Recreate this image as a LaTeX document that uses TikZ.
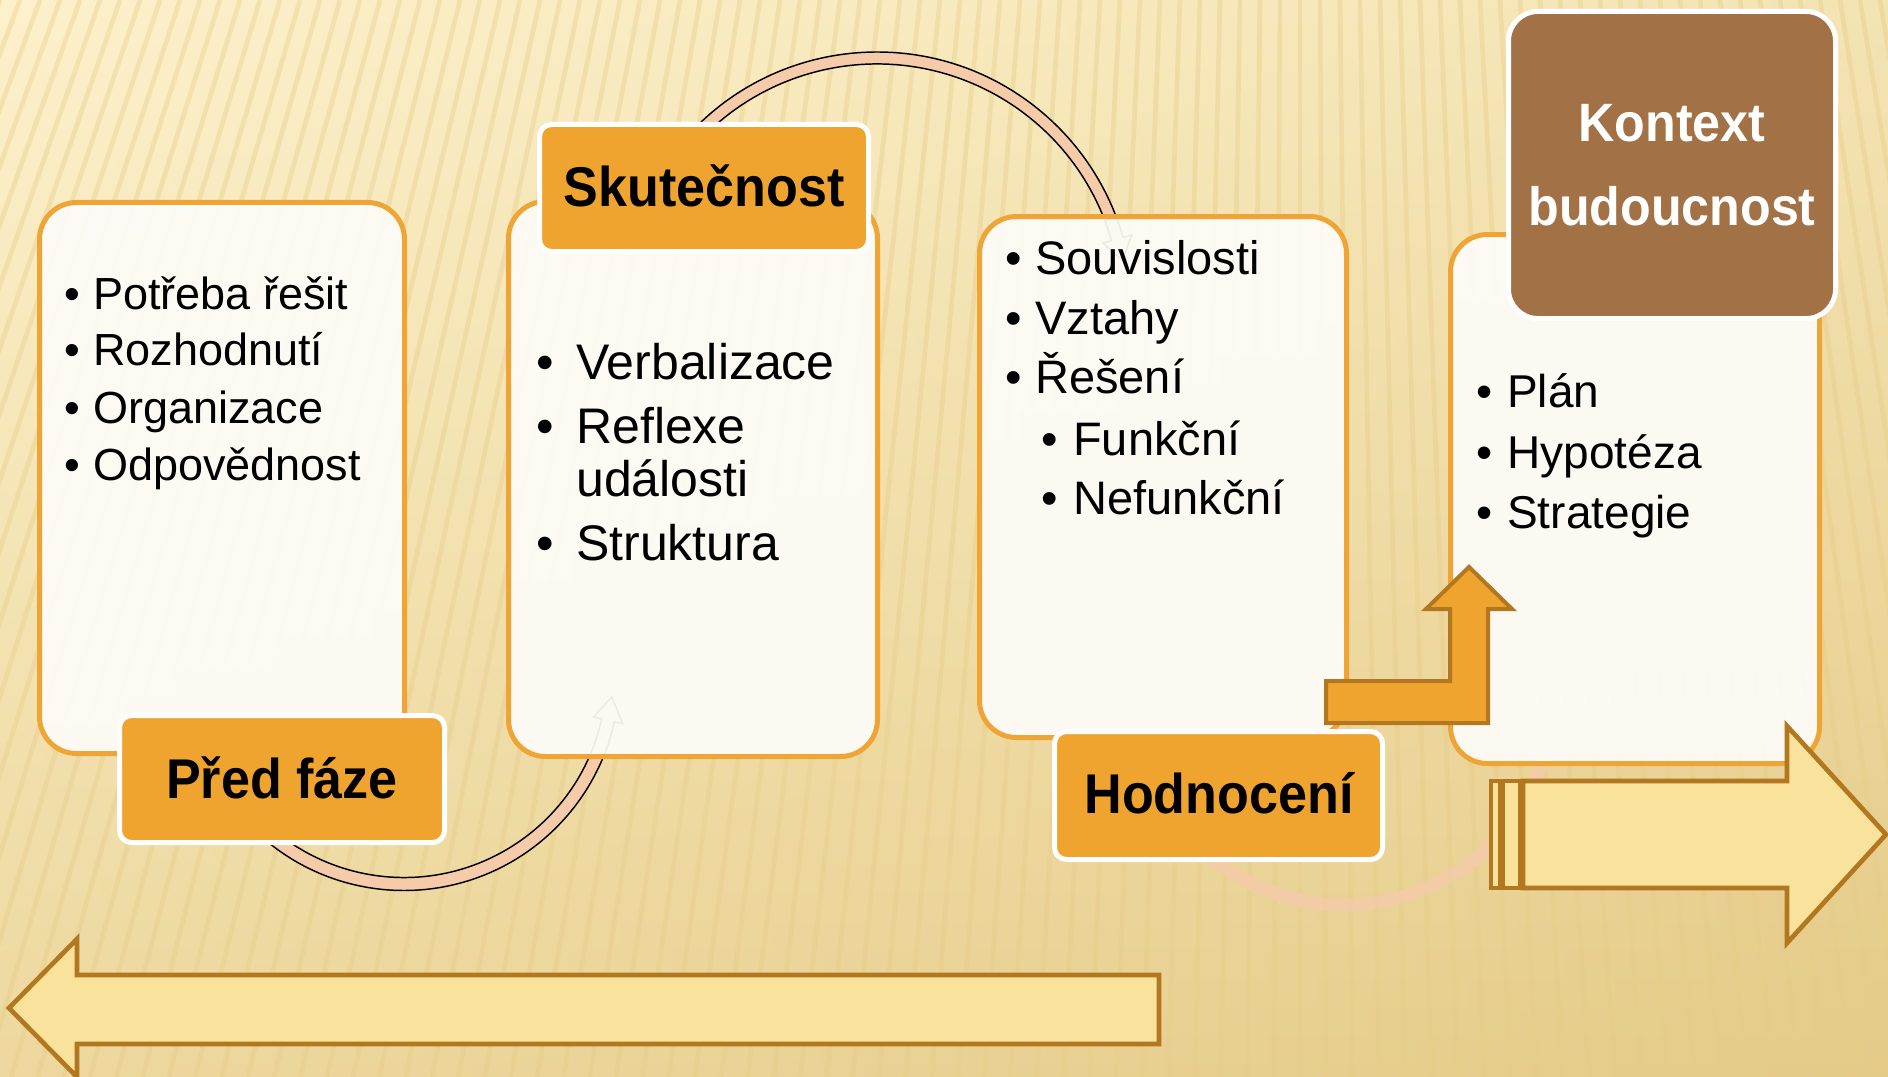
\documentclass[tikz,border=0pt]{standalone}
\usepackage{fontspec}
\setmainfont{Liberation Sans}
\newfontfamily\lblfont{Liberation Sans}[FakeStretch=0.93]
\usetikzlibrary{calc}
\definecolor{orng}{HTML}{F0A430}
\definecolor{boxedge}{HTML}{EFA535}
\definecolor{brownedge}{HTML}{B3781F}
\definecolor{pale}{HTML}{F8E29C}
\definecolor{pinkband}{HTML}{F5CBAA}
\definecolor{kbrown}{HTML}{A27145}
\definecolor{bgtop}{HTML}{FDF1CB}
\definecolor{bgbot}{HTML}{E5CB88}
\definecolor{boxfill}{HTML}{FDFCF8}
\definecolor{stripecol}{HTML}{E6CC86}
\tikzset{
  box/.style={draw=boxedge, line width=3.75pt, fill=boxfill, fill opacity=0.93, rounded corners=27.75pt},
  lblbox/.style={draw=white, line width=3.75pt, fill=orng, rounded corners=9pt},
  band/.style={fill=pinkband, draw=black, line width=1.1pt},
  bandfaint/.style={fill=pinkband, fill opacity=0.8},
  blockarrow/.style={fill=pale, draw=brownedge, line width=3.5pt, line join=miter},
  bentarrow/.style={fill=orng, draw=brownedge, line width=3pt, line join=miter},
  item/.style={anchor=base west, inner sep=0pt, text=black},
  bul/.style={anchor=base, inner sep=0pt, text=black},
  lbltext/.style={anchor=base, inner sep=0pt, text=black, font=\lblfont\bfseries\fontsize{42pt}{50pt}\selectfont},
  ktext/.style={anchor=base, inner sep=0pt, text=white, font=\lblfont\bfseries\fontsize{40.5pt}{48pt}\selectfont},
  stripe/.style={draw=stripecol, line width=3.5pt, opacity=0.38}
}
\begin{document}
\begin{tikzpicture}[x=0.75pt,y=-0.75pt]
\useasboundingbox (0,0) rectangle (1888,1077);
% background
\shade[top color=bgtop, bottom color=bgbot] (0,0) rectangle (1888,1077);
\shade[left color=bgtop, right color=bgbot, opacity=0.35] (0,0) rectangle (1888,1077);
\begin{scope}
\clip (0,0) rectangle (1888,1077);
\foreach \i in {-10,...,100}{
  \pgfmathsetmacro\xt{\i*20}
  \pgfmathsetmacro\xb{\xt+0.315*(\xt-1300)}
  \draw[stripe] (\xt,0) -- (\xb,1077);
}
\end{scope}
% arc centres
\coordinate (c1) at (404,675);
\coordinate (c2) at (877,308);
\coordinate (c3) at (1344,696);
% curved arrows
\path[band] ([shift={(135:215.5)}]c1) arc[start angle=135, end angle=12.5, radius=215.5]
  -- ([shift={(12.5:224)}]c1) -- ([shift={(6:209)}]c1) -- ([shift={(12.5:194)}]c1)
  -- ([shift={(12.5:202.5)}]c1) arc[start angle=12.5, end angle=135, radius=202.5] -- cycle;
\path[band] ([shift={(-140:256)}]c2) arc[start angle=-140, end angle=-16, radius=256]
  -- ([shift={(-16:265)}]c2) -- ([shift={(-11:250)}]c2) -- ([shift={(-16:235)}]c2)
  -- ([shift={(-16:244)}]c2) arc[start angle=-16, end angle=-140, radius=244] -- cycle;
\path[bandfaint] ([shift={(135:215.5)}]c3) arc[start angle=135, end angle=12.5, radius=215.5]
  -- ([shift={(12.5:224)}]c3) -- ([shift={(6:209)}]c3) -- ([shift={(12.5:194)}]c3)
  -- ([shift={(12.5:202.5)}]c3) arc[start angle=12.5, end angle=135, radius=202.5] -- cycle;
% boxes
\path[box] (39.5,202.5) rectangle (404.5,753.5);
\path[box] (508.5,201.5) rectangle (877.5,756.5);
\path[box] (979.5,216.5) rectangle (1346.5,737.5);
\path[box] (1450.5,234.5) rectangle (1819.5,763.5);
% labels
\path[lblbox] (119.5,715.5) rectangle (444.5,842.5);
\node[lbltext] (t1) at (282,798) {Před fáze};
\path[lblbox] (539.5,124.5) rectangle (868.5,251.5);
\node[lbltext] (t2) at (704,207) {Skutečnost};
\path[lblbox] (1054.5,731.5) rectangle (1382.5,859.5);
\node[lbltext] (t3) at (1219,813) {Hodnocení};
\path[lblbox, fill=kbrown, rounded corners=22pt] (1508.5,11.5) rectangle (1835.5,318.5);
\node[ktext] (t4a) at (1672,142) {Kontext};
\node[ktext] (t4b) at (1672,225) {budoucnost};
% box 1 items
\begin{scope}[font=\fontsize{33.75pt}{40pt}\selectfont]
\node[bul] (d1a) at (72,309) {•}; \node[item] (i1a) at (93,309) {Potřeba řešit};
\node[bul] (d1b) at (72,365) {•}; \node[item] (i1b) at (93,365) {Rozhodnutí};
\node[bul] (d1c) at (72,423) {•}; \node[item] (i1c) at (93,423) {Organizace};
\node[bul] (d1d) at (72,480) {•}; \node[item] (i1d) at (93,480) {Odpovědnost};
\end{scope}
% box 2 items
\begin{scope}[font=\fontsize{37.5pt}{44pt}\selectfont]
\node[bul] (d2a) at (545,379) {•}; \node[item] (i2a) at (576,379) {Verbalizace};
\node[bul] (d2b) at (545,443) {•}; \node[item] (i2b) at (576,443) {Reflexe};
\node[item] (i2c) at (576,496) {události};
\node[bul] (d2d) at (545,560) {•}; \node[item] (i2d) at (576,560) {Struktura};
\end{scope}
% box 3 items
\begin{scope}[font=\fontsize{35.25pt}{42pt}\selectfont]
\node[bul] (d3a) at (1014,274) {•}; \node[item] (i3a) at (1035,274) {Souvislosti};
\node[bul] (d3b) at (1014,334) {•}; \node[item] (i3b) at (1035,334) {Vztahy};
\node[bul] (d3c) at (1014,393) {•}; \node[item] (i3c) at (1035,393) {Řešení};
\node[bul] (d3d) at (1050,455) {•}; \node[item] (i3d) at (1073,455) {Funkční};
\node[bul] (d3e) at (1050,514) {•}; \node[item] (i3e) at (1073,514) {Nefunkční};
\end{scope}
% box 4 items
\begin{scope}[font=\fontsize{34.5pt}{41pt}\selectfont]
\node[bul] (d4a) at (1485,407) {•}; \node[item] (i4a) at (1507,407) {Plán};
\node[bul] (d4b) at (1485,468) {•}; \node[item] (i4b) at (1507,468) {Hypotéza};
\node[bul] (d4c) at (1485,528) {•}; \node[item] (i4c) at (1507,528) {Strategie};
\end{scope}
% bent up arrow
\path[bentarrow] (1326,681) -- (1450,681) -- (1450,609) -- (1426,609) -- (1469,567)
  -- (1512,609) -- (1488,609) -- (1488,723) -- (1326,723) -- cycle;
% striped right arrow
\path[blockarrow] (1523,781) -- (1787,781) -- (1787,726) -- (1886,834.5) -- (1787,943)
  -- (1787,888) -- (1523,888) -- cycle;
\path[blockarrow] (1491,781) rectangle (1500,888);
\path[blockarrow] (1503,781) rectangle (1520,888);
% left arrow
\path[blockarrow] (9,1008) -- (77,939) -- (77,975) -- (1159,975) -- (1159,1044)
  -- (77,1044) -- (77,1077) -- cycle;
\end{tikzpicture}
\end{document}
